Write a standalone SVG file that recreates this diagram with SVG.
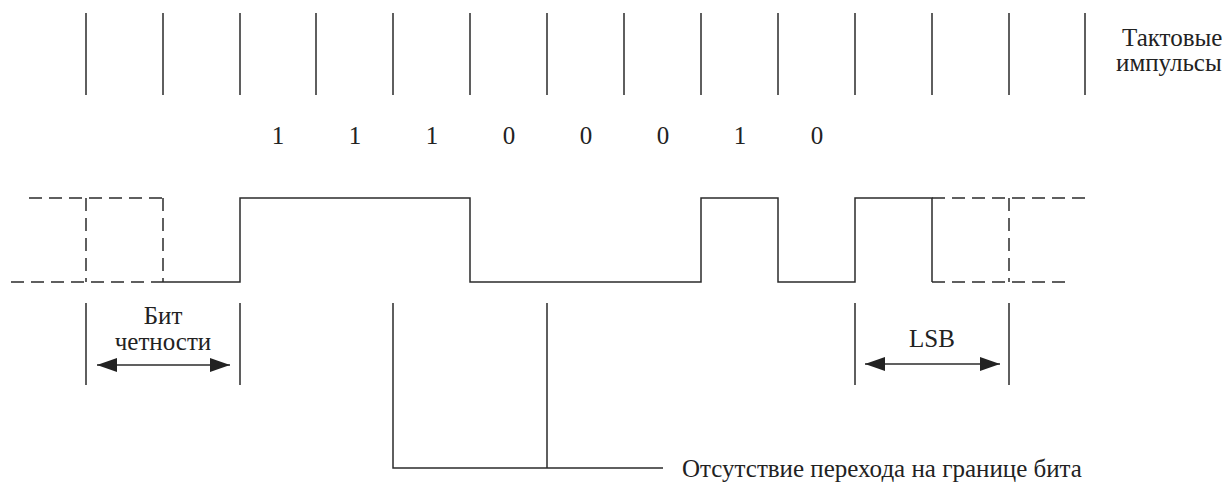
<svg xmlns="http://www.w3.org/2000/svg" width="1231" height="483" viewBox="0 0 1231 483">
<style>
.ln{stroke:#2b2b2b;stroke-width:1.5;fill:none}
.ds{stroke:#2b2b2b;stroke-width:1.5;fill:none;stroke-dasharray:13,7}
.t{font-family:'Liberation Serif','Times New Roman',serif;fill:#222;font-size:25px}
</style>
<defs>
<marker id="ah" viewBox="0 0 20 14" refX="20" refY="7" markerWidth="20" markerHeight="14" markerUnits="userSpaceOnUse" orient="auto-start-reverse">
<path d="M0,0 L20,7 L0,14 Z" fill="#222"/>
</marker>
</defs>
<g id="clock">
<path class="ln" d="M86,13V95M163,13V95M240,13V95M316,13V95M393,13V95M470,13V95M547,13V95M624,13V95M701,13V95M778,13V95M855,13V95M932,13V95M1009,13V95M1085,13V95"/>
<text class="t" x="1122" y="46">Тактовые</text>
<text class="t" x="1116" y="71">импульсы</text>
</g>
<g id="bits" class="t" text-anchor="middle">
<text x="278" y="144">1</text>
<text x="355" y="144">1</text>
<text x="432" y="144">1</text>
<text x="509" y="144">0</text>
<text x="586" y="144">0</text>
<text x="663" y="144">0</text>
<text x="740" y="144">1</text>
<text x="817" y="144">0</text>
</g>
<g id="signal">
<path class="ds" d="M29,198H163M11,282H163M86,198V282M163,198V282"/>
<path class="ln" d="M163,282H240V198H470V282H701V198H778V282H855V198H932V282"/>
<path class="ds" d="M932,198H1085M932,282H1067M1009,198V282"/>
</g>
<g id="parity">
<path class="ln" d="M86,303V385M240,303V385"/>
<text class="t" x="163" y="324" text-anchor="middle">Бит</text>
<text class="t" x="163" y="350" text-anchor="middle">четности</text>
</g>
<g id="lsb">
<path class="ln" d="M855,303V385M1009,303V385"/>
<text class="t" x="932" y="347" text-anchor="middle">LSB</text>
</g>
<g id="connectors">
<line class="ln" x1="97" y1="365" x2="230" y2="365" marker-start="url(#ah)" marker-end="url(#ah)"/>
<line class="ln" x1="865" y1="364" x2="1000" y2="364" marker-start="url(#ah)" marker-end="url(#ah)"/>
<path class="ln" d="M393,303V468H663M547,303V468"/>
</g>
<g id="note">
<text class="t" x="682" y="477">Отсутствие перехода на границе бита</text>
</g>
</svg>
